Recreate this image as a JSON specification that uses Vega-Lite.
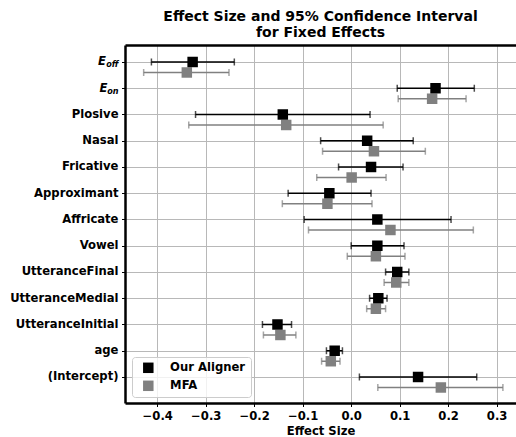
{
  "$schema": "https://vega.github.io/schema/vega-lite/v6.json",
  "width": 391,
  "height": 358,
  "autosize": {"type": "none"},
  "padding": {"left": 125, "top": 45, "right": 0, "bottom": 34},
  "background": "white",
  "title": {
    "text": ["Effect Size and 95% Confidence Interval", "for Fixed Effects"],
    "font": "DejaVu Sans",
    "fontSize": 14,
    "fontWeight": "bold",
    "lineHeight": 15.8,
    "anchor": "middle",
    "offset": 5,
    "color": "black"
  },
  "config": {
    "view": {"stroke": null},
    "axis": {
      "labelFont": "DejaVu Sans",
      "labelFontWeight": "bold",
      "labelFontSize": 11.6,
      "labelColor": "black",
      "titleFont": "DejaVu Sans",
      "titleFontWeight": "bold",
      "titleFontSize": 11.6,
      "titleColor": "black",
      "tickColor": "black",
      "tickSize": 3.5,
      "tickWidth": 1,
      "domainColor": "black",
      "domainWidth": 2.5,
      "gridColor": "#b8b8b8",
      "gridWidth": 1
    }
  },
  "data": {
    "values": [
      {"term": "E_off", "series": "Our Aligner", "est": -0.327, "lo": -0.412, "hi": -0.241},
      {"term": "E_off", "series": "MFA", "est": -0.339, "lo": -0.428, "hi": -0.252},
      {"term": "E_on", "series": "Our Aligner", "est": 0.174, "lo": 0.095, "hi": 0.254},
      {"term": "E_on", "series": "MFA", "est": 0.167, "lo": 0.097, "hi": 0.237},
      {"term": "Plosive", "series": "Our Aligner", "est": -0.141, "lo": -0.321, "hi": 0.039},
      {"term": "Plosive", "series": "MFA", "est": -0.134, "lo": -0.335, "hi": 0.066},
      {"term": "Nasal", "series": "Our Aligner", "est": 0.033, "lo": -0.063, "hi": 0.128},
      {"term": "Nasal", "series": "MFA", "est": 0.047, "lo": -0.059, "hi": 0.153},
      {"term": "Fricative", "series": "Our Aligner", "est": 0.041, "lo": -0.026, "hi": 0.107},
      {"term": "Fricative", "series": "MFA", "est": 0.001, "lo": -0.071, "hi": 0.072},
      {"term": "Approximant", "series": "Our Aligner", "est": -0.045, "lo": -0.130, "hi": 0.041},
      {"term": "Approximant", "series": "MFA", "est": -0.049, "lo": -0.142, "hi": 0.043},
      {"term": "Affricate", "series": "Our Aligner", "est": 0.054, "lo": -0.097, "hi": 0.206},
      {"term": "Affricate", "series": "MFA", "est": 0.081, "lo": -0.088, "hi": 0.252},
      {"term": "Vowel", "series": "Our Aligner", "est": 0.054, "lo": 0.000, "hi": 0.109},
      {"term": "Vowel", "series": "MFA", "est": 0.051, "lo": -0.008, "hi": 0.111},
      {"term": "UtteranceFinal", "series": "Our Aligner", "est": 0.095, "lo": 0.071, "hi": 0.119},
      {"term": "UtteranceFinal", "series": "MFA", "est": 0.093, "lo": 0.068, "hi": 0.119},
      {"term": "UtteranceMedial", "series": "Our Aligner", "est": 0.056, "lo": 0.038, "hi": 0.074},
      {"term": "UtteranceMedial", "series": "MFA", "est": 0.051, "lo": 0.032, "hi": 0.071},
      {"term": "UtteranceInitial", "series": "Our Aligner", "est": -0.152, "lo": -0.183, "hi": -0.123},
      {"term": "UtteranceInitial", "series": "MFA", "est": -0.146, "lo": -0.181, "hi": -0.114},
      {"term": "age", "series": "Our Aligner", "est": -0.034, "lo": -0.051, "hi": -0.018},
      {"term": "age", "series": "MFA", "est": -0.042, "lo": -0.061, "hi": -0.023},
      {"term": "(Intercept)", "series": "Our Aligner", "est": 0.138, "lo": 0.017, "hi": 0.259},
      {"term": "(Intercept)", "series": "MFA", "est": 0.185, "lo": 0.055, "hi": 0.313}
    ]
  },
  "resolve": {"axis": {"x": "independent", "y": "independent"}},
  "layer": [
    {
      "layer": [
        {
          "transform": [{"filter": "datum.series == 'MFA'"}],
          "mark": {"type": "rule", "color": "#808080", "strokeWidth": 1.5, "yOffset": 10.5},
          "encoding": {
            "x": {"field": "lo", "type": "quantitative", "scale": {"domain": [-0.4665, 0.34], "nice": false, "zero": false},
              "axis": {"values": [-0.4, -0.3, -0.2, -0.1, 0, 0.1, 0.2, 0.3], "format": ".1f", "title": "Effect Size", "grid": true, "labelPadding": 3.5, "titlePadding": 4}},
            "x2": {"field": "hi"},
            "y": {"field": "term", "type": "nominal",
              "scale": {"type": "point", "domain": ["E_off", "E_on", "Plosive", "Nasal", "Fricative", "Approximant", "Affricate", "Vowel", "UtteranceFinal", "UtteranceMedial", "UtteranceInitial", "age", "(Intercept)"], "padding": 0.819, "align": 0.395},
              "axis": {
                "orient": "left",
                "title": null,
                "grid": true,
                "labelPadding": 3.5,
                "labelExpr": "datum.value == 'E_off' ? 'off' : (datum.value == 'E_on' ? 'on' : datum.value)",
                "labelFontSize": {"condition": {"test": "datum.value == 'E_off' || datum.value == 'E_on'", "value": 8.1}, "value": 11.6},
                "labelFontStyle": {"condition": {"test": "datum.value == 'E_off' || datum.value == 'E_on'", "value": "italic"}, "value": "normal"},
                "labelOffset": {"condition": {"test": "datum.value == 'E_off' || datum.value == 'E_on'", "value": 3}, "value": 0}
              }
            }
          }
        },
        {
          "transform": [{"filter": "datum.series == 'MFA'"}],
          "mark": {"type": "tick", "orient": "vertical", "color": "#808080", "size": 7, "thickness": 1.5, "yOffset": 10.5},
          "encoding": {
            "x": {"field": "lo", "type": "quantitative", "scale": {"domain": [-0.4665, 0.34], "nice": false, "zero": false}},
            "y": {"field": "term", "type": "nominal", "scale": {"type": "point", "domain": ["E_off", "E_on", "Plosive", "Nasal", "Fricative", "Approximant", "Affricate", "Vowel", "UtteranceFinal", "UtteranceMedial", "UtteranceInitial", "age", "(Intercept)"], "padding": 0.819, "align": 0.395}}
          }
        },
        {
          "transform": [{"filter": "datum.series == 'MFA'"}],
          "mark": {"type": "tick", "orient": "vertical", "color": "#808080", "size": 7, "thickness": 1.5, "yOffset": 10.5},
          "encoding": {
            "x": {"field": "hi", "type": "quantitative", "scale": {"domain": [-0.4665, 0.34], "nice": false, "zero": false}},
            "y": {"field": "term", "type": "nominal", "scale": {"type": "point", "domain": ["E_off", "E_on", "Plosive", "Nasal", "Fricative", "Approximant", "Affricate", "Vowel", "UtteranceFinal", "UtteranceMedial", "UtteranceInitial", "age", "(Intercept)"], "padding": 0.819, "align": 0.395}}
          }
        },
        {
          "transform": [{"filter": "datum.series == 'MFA'"}],
          "mark": {"type": "square", "size": 110, "opacity": 1, "filled": true, "yOffset": 10.5},
          "encoding": {
            "x": {"field": "est", "type": "quantitative", "scale": {"domain": [-0.4665, 0.34], "nice": false, "zero": false}},
            "y": {"field": "term", "type": "nominal", "scale": {"type": "point", "domain": ["E_off", "E_on", "Plosive", "Nasal", "Fricative", "Approximant", "Affricate", "Vowel", "UtteranceFinal", "UtteranceMedial", "UtteranceInitial", "age", "(Intercept)"], "padding": 0.819, "align": 0.395}},
            "color": {"field": "series", "type": "nominal",
              "scale": {"domain": ["Our Aligner", "MFA"], "range": ["#000000", "#808080"]},
              "legend": {"title": null, "orient": "bottom-left", "offset": 6.5, "symbolType": "square", "symbolSize": 110, "symbolStrokeWidth": 0, "symbolOpacity": 1, "labelFont": "DejaVu Sans", "labelFontWeight": "bold", "labelFontSize": 11.6, "labelColor": "black", "padding": 5, "rowPadding": 5, "symbolOffset": 5.5, "labelOffset": 16, "strokeColor": "#cccccc", "fillColor": "rgba(255,255,255,0.8)", "cornerRadius": 3}}
          }
        },
        {
          "transform": [{"filter": "datum.series == 'Our Aligner'"}],
          "mark": {"type": "rule", "color": "#000000", "strokeWidth": 1.5},
          "encoding": {
            "x": {"field": "lo", "type": "quantitative", "scale": {"domain": [-0.4665, 0.34], "nice": false, "zero": false}},
            "x2": {"field": "hi"},
            "y": {"field": "term", "type": "nominal", "scale": {"type": "point", "domain": ["E_off", "E_on", "Plosive", "Nasal", "Fricative", "Approximant", "Affricate", "Vowel", "UtteranceFinal", "UtteranceMedial", "UtteranceInitial", "age", "(Intercept)"], "padding": 0.819, "align": 0.395}}
          }
        },
        {
          "transform": [{"filter": "datum.series == 'Our Aligner'"}],
          "mark": {"type": "tick", "orient": "vertical", "color": "#000000", "size": 7, "thickness": 1.5},
          "encoding": {
            "x": {"field": "lo", "type": "quantitative", "scale": {"domain": [-0.4665, 0.34], "nice": false, "zero": false}},
            "y": {"field": "term", "type": "nominal", "scale": {"type": "point", "domain": ["E_off", "E_on", "Plosive", "Nasal", "Fricative", "Approximant", "Affricate", "Vowel", "UtteranceFinal", "UtteranceMedial", "UtteranceInitial", "age", "(Intercept)"], "padding": 0.819, "align": 0.395}}
          }
        },
        {
          "transform": [{"filter": "datum.series == 'Our Aligner'"}],
          "mark": {"type": "tick", "orient": "vertical", "color": "#000000", "size": 7, "thickness": 1.5},
          "encoding": {
            "x": {"field": "hi", "type": "quantitative", "scale": {"domain": [-0.4665, 0.34], "nice": false, "zero": false}},
            "y": {"field": "term", "type": "nominal", "scale": {"type": "point", "domain": ["E_off", "E_on", "Plosive", "Nasal", "Fricative", "Approximant", "Affricate", "Vowel", "UtteranceFinal", "UtteranceMedial", "UtteranceInitial", "age", "(Intercept)"], "padding": 0.819, "align": 0.395}}
          }
        }
      ]
    },
    {
      "transform": [{"filter": "datum.series == 'Our Aligner'"}],
      "mark": {"type": "square", "size": 110, "opacity": 1, "filled": true},
      "encoding": {
        "x": {"field": "est", "type": "quantitative", "scale": {"domain": [-0.4665, 0.34], "nice": false, "zero": false},
          "axis": {"orient": "top", "labels": false, "ticks": false, "grid": false, "title": null, "domain": true}},
        "y": {"field": "term", "type": "nominal",
          "scale": {"type": "point", "domain": ["E_off", "E_on", "Plosive", "Nasal", "Fricative", "Approximant", "Affricate", "Vowel", "UtteranceFinal", "UtteranceMedial", "UtteranceInitial", "age", "(Intercept)"], "padding": 0.819, "align": 0.395},
          "axis": {
            "orient": "left",
            "title": null,
            "grid": false,
            "domain": false,
            "ticks": true,
            "tickColor": "transparent",
            "labelExpr": "(datum.value == 'E_off' || datum.value == 'E_on') ? 'E' : ''",
            "labelFontStyle": "italic",
            "labelPadding": {"condition": {"test": "datum.value == 'E_off'", "value": 16}, "value": 14.5}
          }
        },
        "color": {"field": "series", "type": "nominal",
          "scale": {"domain": ["Our Aligner", "MFA"], "range": ["#000000", "#808080"]},
          "legend": {"title": null, "orient": "bottom-left", "offset": 6.5, "symbolType": "square", "symbolSize": 110, "symbolStrokeWidth": 0, "symbolOpacity": 1, "labelFont": "DejaVu Sans", "labelFontWeight": "bold", "labelFontSize": 11.6, "labelColor": "black", "padding": 5, "rowPadding": 5, "symbolOffset": 5.5, "labelOffset": 16, "strokeColor": "#cccccc", "fillColor": "rgba(255,255,255,0.8)", "cornerRadius": 3}}
      }
    }
  ]
}
